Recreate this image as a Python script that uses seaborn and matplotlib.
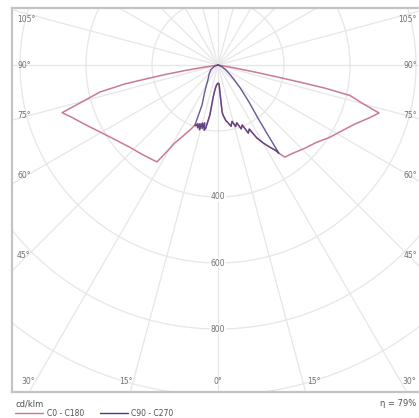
import numpy as np
import pandas as pd
import matplotlib
matplotlib.use("Agg")
import matplotlib.pyplot as plt
import seaborn as sns

# ---- data (luminous intensity, cd/klm) ----
# C180 half-plane (left side), angle from nadir in degrees
c180_angles = [0, 4, 7, 8.6, 9.2, 11, 12, 13, 14, 15, 16, 17, 18, 19, 20, 21,
               23, 25, 27, 29, 30.7, 32.2, 40, 46.8, 54, 60.4, 64, 67.6, 70.5,
               73, 74.6, 77.1, 78.5, 79.2, 79.8, 80.5, 81, 82, 90]
c180_values = [55, 60, 75, 100, 153, 195, 202, 180, 198, 182, 204, 186, 200, 188,
               196, 195, 212, 228, 248, 270, 308, 347, 355, 365, 385, 411, 430,
               452, 472, 494, 434, 367, 288, 210, 160, 100, 50, 0, 0]
# C0 half-plane (right side)
c0_angles = [0, 3, 4, 5, 5.7, 8, 10, 12, 14, 16, 18, 20, 22, 24, 26, 28, 30,
             32, 34, 34.6, 36, 40, 46, 52, 57, 62, 66.7, 70.9, 73.4, 75.2, 77,
             77.8, 78.2, 78.6, 79.2, 80, 81, 90]
c0_values = [55, 57, 80, 143, 152, 170, 178, 190, 176, 194, 184, 206, 196, 226,
             216, 250, 272, 292, 312, 325, 345, 350, 364, 380, 403, 425, 452,
             487, 509, 451, 410, 330, 250, 180, 110, 45, 0, 0]
# C270 half-plane (left side)
c270_angles = [0, 4, 7, 8.6, 9.2, 11, 12, 13, 14, 15, 16, 17, 18, 19, 20, 21,
               21.8, 25, 30, 34, 45, 58, 70, 80, 90]
c270_values = [55, 60, 75, 100, 153, 195, 202, 180, 198, 182, 204, 186, 200, 188,
               196, 195, 130, 100, 70, 55, 38, 25, 12, 0, 0]
# C90 half-plane (right side)
c90_angles = [0, 3, 4, 5, 5.7, 8, 10, 12, 14, 16, 18, 20, 22, 24, 26, 28, 30,
              32, 34, 34.6, 35.5, 37, 40, 44, 48, 52, 58, 66, 75, 90]
c90_values = [55, 57, 80, 143, 152, 170, 178, 190, 176, 194, 184, 206, 196, 226,
              216, 250, 272, 292, 312, 325, 260, 200, 145, 97, 65, 45, 28, 14, 0, 0]

grid_radii = [200, 400, 600, 800, 1000, 1200, 1400]
grid_ray_angles = list(range(0, 360, 15))
radial_labels = ["400", "600", "800"]
radial_label_values = [400, 600, 800]

PINK = "#c97a92"
DARK = "#4d3a86"
GRID = "#e6e6e6"
TXT = "#707070"


def to_xy(left_ang, left_val, right_ang, right_val):
    la = np.radians(np.asarray(left_ang, float))[::-1]
    lv = np.asarray(left_val, float)[::-1]
    ra = np.radians(np.asarray(right_ang, float))
    rv = np.asarray(right_val, float)
    x = np.concatenate([-lv * np.sin(la), rv * np.sin(ra)])
    y = np.concatenate([-lv * np.cos(la), -rv * np.cos(ra)])
    return pd.DataFrame({"x": x, "y": y, "order": np.arange(len(x))})


sns.set_style("white")
fig = plt.figure(figsize=(4.19, 4.18), dpi=100)
W, H = 419, 418
ax = fig.add_axes([12 / W, (H - 392) / H, 413 / W, 384 / H])

# scale: 0.33 px per cd, centre at pixel (218, 65)
s = 0.33
ax.set_xlim((12 - 218) / s, (425 - 218) / s)
ax.set_ylim(-(392 - 65) / s, (65 - 8) / s)

# polar grid
t = np.linspace(0, 2 * np.pi, 400)
for r in grid_radii:
    ax.plot(r * np.cos(t), r * np.sin(t), color=GRID, lw=0.9, zorder=0)
for a in grid_ray_angles:
    ar = np.radians(a)
    ax.plot([0, 1500 * np.sin(ar)], [0, -1500 * np.cos(ar)], color=GRID, lw=0.9, zorder=0)

pink = to_xy(c180_angles, c180_values, c0_angles, c0_values)
dark = to_xy(c270_angles, c270_values, c90_angles, c90_values)
sns.lineplot(data=pink, x="x", y="y", sort=False, estimator=None, color=PINK, lw=1.1, ax=ax, zorder=3)
sns.lineplot(data=dark, x="x", y="y", sort=False, estimator=None, color=DARK, lw=1.0, alpha=0.85, ax=ax, zorder=4)

for lab, v in zip(radial_labels, radial_label_values):
    ax.text(0, -v, lab, ha="center", va="center", fontsize=5.5, color=TXT,
            bbox=dict(facecolor="white", edgecolor="none", pad=0.6), zorder=5)

ax.set_xticks([])
ax.set_yticks([])
ax.set_xlabel("")
ax.set_ylabel("")
for sp in ax.spines.values():
    sp.set_visible(True)
    sp.set_color("#c4c4c4")
    sp.set_linewidth(1.6)


def ftxt(px, py, text, **kw):
    fig.text(px / W, 1 - py / H, text, fontsize=kw.pop("fontsize", 5.5),
             color=kw.pop("color", TXT), va="center", **kw)


side = [("105°", 20), ("90°", 65), ("75°", 116), ("60°", 176), ("45°", 256)]
for lab, py in side:
    ftxt(17, py, lab, ha="left")
    ftxt(417, py, lab, ha="right")
bottom = [("30°", 28), ("15°", 126), ("0°", 218), ("15°", 314), ("30°", 409)]
for lab, px in bottom:
    ftxt(px, 382, lab, ha="center")

ftxt(15, 404, "cd/klm", ha="left", fontsize=6, color="#505050")
ftxt(416, 404, "η = 79%", ha="right", fontsize=6, color="#505050")
fig.add_artist(plt.Line2D([15 / W, 43 / W], [1 - 413 / H] * 2, color=PINK, lw=1.0))
ftxt(47, 413, "C0 - C180", ha="left", fontsize=5.5, color="#505050")
fig.add_artist(plt.Line2D([100 / W, 128 / W], [1 - 413 / H] * 2, color=DARK, lw=1.0))
ftxt(131, 413, "C90 - C270", ha="left", fontsize=5.5, color="#505050")

fig.savefig("out.png", dpi=100)
